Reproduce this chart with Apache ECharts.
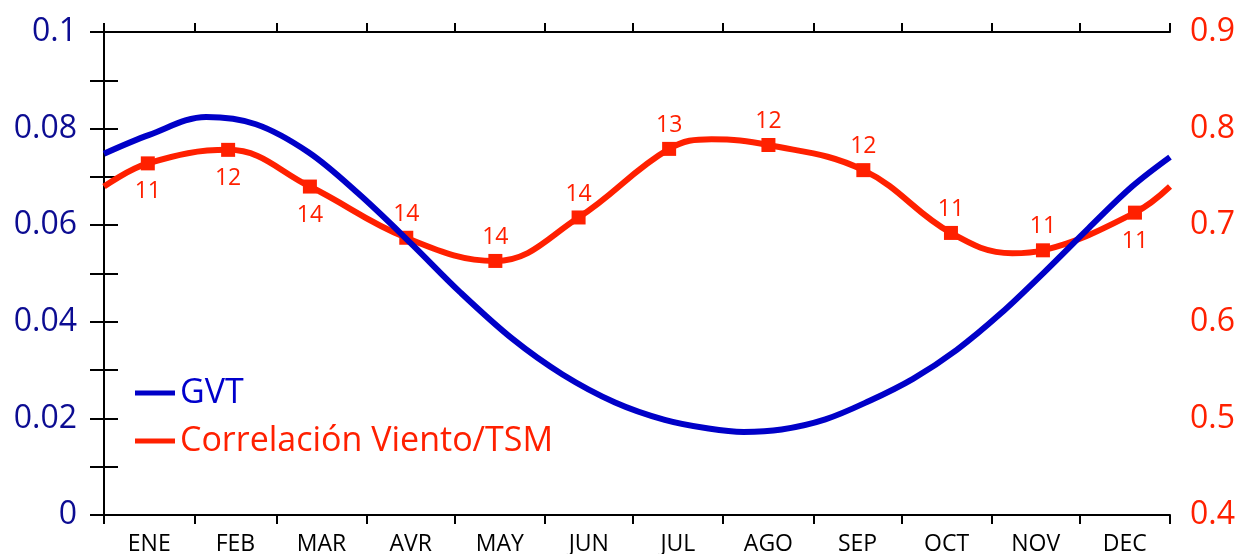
<!DOCTYPE html>
<html>
<head>
<meta charset="utf-8">
<script src="https://cdn.jsdelivr.net/npm/echarts@6/dist/echarts.min.js"></script>
<style>
  html, body { margin: 0; padding: 0; background: #ffffff; }
  #chart { width: 1240px; height: 554px; }
</style>
</head>
<body>
<div id="chart"></div>
<script>
// Month names and the day of year on which each month starts (365-day year)
const monthNames = ['ENE', 'FEB', 'MAR', 'AVR', 'MAY', 'JUN', 'JUL', 'AGO', 'SEP', 'OCT', 'NOV', 'DEC'];
const monthStarts = [0, 31, 59, 90, 120, 151, 181, 212, 243, 273, 304, 334, 365];

// GVT annual cycle (left axis), sampled along the year incl. its maximum and minimum
const gvtDays = [0, 15.5, 35, 52, 70, 87, 105, 122, 140, 157, 175, 192,
                 207, 219, 232, 247, 262, 277, 292, 307, 322, 337, 352, 365];
const gvtValues = [0.0748, 0.0787, 0.0824, 0.0809, 0.0751, 0.0666, 0.0563, 0.0461, 0.0364, 0.0291, 0.0233, 0.0197,
                   0.0179, 0.0172, 0.0177, 0.0198, 0.0236, 0.0282, 0.0342, 0.0417, 0.0503, 0.0593, 0.0680, 0.0741];

// Monthly wind / SST correlation (right axis) and the number of cases behind each month
const corrDays = [15, 42.5, 70.5, 103.5, 134, 162.5, 193.5, 227.5, 260, 290, 321.5, 353];
const corrValues = [0.764, 0.778, 0.740, 0.687, 0.663, 0.708, 0.779, 0.783, 0.757, 0.692, 0.674, 0.713];
const corrCounts = [11, 12, 14, 14, 14, 14, 13, 12, 12, 11, 11, 11];
const corrLabelSide = ['bottom', 'bottom', 'bottom', 'top', 'top', 'top', 'top', 'top', 'top', 'top', 'top', 'bottom'];
// Unmarked points of the correlation curve: year start/end and its bends between months
const corrCurveDays = [0, 208, 311, 365];
const corrCurveValues = [0.740, 0.789, 0.671, 0.740];

const BLUE = '#0000c8';
const BLUE_TEXT = '#0000cc';
const NAVY = '#0c0c92';
const RED = '#ff2000';
const FONT = 'Open Sans';

const monthMids = monthNames.map((_, i) => (monthStarts[i] + monthStarts[i + 1]) / 2);

function monthOf(day) {
  for (let i = 0; i < monthNames.length; i++) {
    if (day >= monthStarts[i] && day < monthStarts[i + 1]) return monthNames[i];
  }
  return '';
}

const gvtData = gvtDays.map((d, i) => [d, gvtValues[i]]);

// Correlation curve: monthly marked points plus unmarked bend points, ordered by day
const corrData = [];
corrDays.forEach((d, i) => {
  const top = corrLabelSide[i] === 'top';
  corrData.push({
    value: [d, corrValues[i]],
    label: { show: true, position: corrLabelSide[i], distance: top ? 5 : 10, formatter: String(corrCounts[i]) }
  });
});
corrCurveDays.forEach((d, i) => {
  corrData.push({ value: [d, corrCurveValues[i]], symbol: 'none', label: { show: false } });
});
corrData.sort((a, b) => a.value[0] - b.value[0]);

const axisLine = { show: true, lineStyle: { color: '#000', width: 2 } };
const tickStyle = { color: '#000', width: 2 };

const chart = echarts.init(document.getElementById('chart'), null, { renderer: 'canvas' });

chart.setOption({
  animation: false,
  backgroundColor: '#ffffff',
  grid: { left: 104, right: 70, top: 32, bottom: 39, containLabel: false, outerBoundsMode: 'none' },
  legend: {
    orient: 'vertical',
    left: 135,
    top: 376,
    padding: 0,
    icon: 'rect',
    itemWidth: 40,
    itemHeight: 5,
    itemGap: 14,
    selectedMode: false,
    textStyle: { fontSize: 34, fontFamily: FONT },
    data: [
      { name: 'GVT', textStyle: { color: BLUE_TEXT } },
      { name: 'Correlación Viento/TSM', textStyle: { color: RED } }
    ]
  },
  xAxis: [
    {
      type: 'value',
      position: 'bottom',
      min: 0,
      max: 365,
      axisLine: axisLine,
      axisTick: { show: true, length: 9, lineStyle: tickStyle, customValues: monthStarts },
      axisLabel: {
        show: true,
        customValues: monthMids,
        formatter: (v) => monthOf(v),
        color: '#000',
        fontSize: 23,
        fontFamily: FONT,
        margin: 18
      },
      splitLine: { show: false }
    },
    {
      type: 'value',
      position: 'top',
      min: 0,
      max: 365,
      axisLine: axisLine,
      axisTick: { show: true, length: 9, lineStyle: tickStyle, customValues: monthStarts },
      axisLabel: { show: false },
      splitLine: { show: false }
    }
  ],
  yAxis: [
    {
      type: 'value',
      position: 'left',
      min: 0,
      max: 0.1,
      interval: 0.02,
      axisLine: axisLine,
      axisTick: { show: true, length: 14, lineStyle: tickStyle },
      minorTick: { show: true, splitNumber: 2, length: 14, lineStyle: tickStyle },
      axisLabel: { color: NAVY, fontSize: 32, fontFamily: FONT, margin: 27 },
      splitLine: { show: false },
      minorSplitLine: { show: false }
    },
    {
      type: 'value',
      position: 'right',
      min: 0.4,
      max: 0.9,
      interval: 0.1,
      axisLine: axisLine,
      axisTick: { show: true, length: 14, lineStyle: tickStyle },
      minorTick: { show: true, splitNumber: 2, length: 14, lineStyle: tickStyle },
      axisLabel: { color: RED, fontSize: 32, fontFamily: FONT, margin: 20 },
      splitLine: { show: false },
      minorSplitLine: { show: false }
    }
  ],
  series: [
    {
      name: 'GVT',
      type: 'line',
      xAxisIndex: 0,
      yAxisIndex: 0,
      data: gvtData,
      smooth: 0.35,
      showSymbol: false,
      lineStyle: { color: BLUE, width: 6 },
      itemStyle: { color: BLUE },
      z: 4
    },
    {
      name: 'Correlación Viento/TSM',
      type: 'line',
      xAxisIndex: 0,
      yAxisIndex: 1,
      data: corrData,
      smooth: 0.4,
      symbol: 'rect',
      symbolSize: 14,
      showSymbol: true,
      lineStyle: { color: RED, width: 6 },
      itemStyle: { color: RED },
      label: { color: RED, fontSize: 23, fontFamily: FONT },
      z: 3
    }
  ]
});
</script>
</body>
</html>
